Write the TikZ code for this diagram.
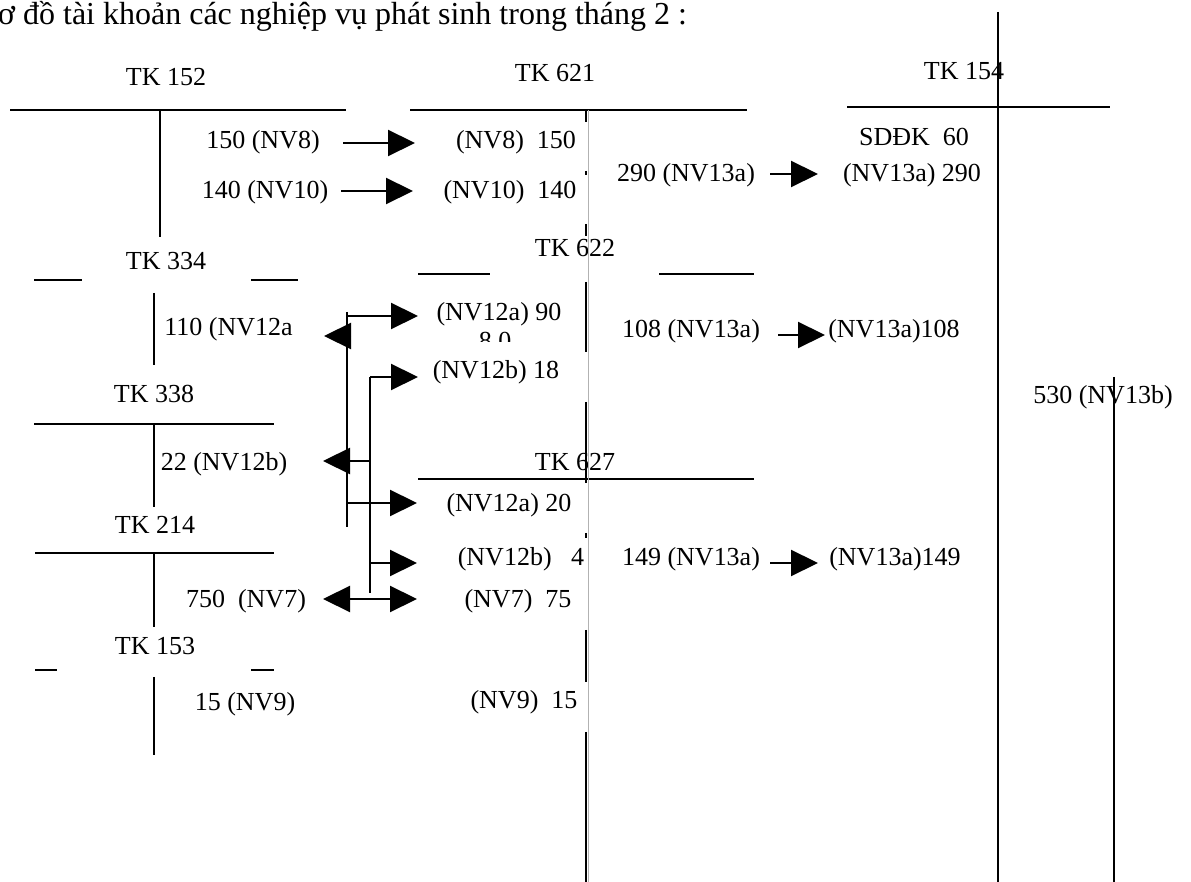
\documentclass[tikz,border=0pt]{standalone}
\usepackage{fontspec}
\setmainfont{Liberation Serif}
\usetikzlibrary{arrows.meta}
\begin{document}
\begin{tikzpicture}[x=0.5pt,y=-0.5pt,
  lbl/.style={inner sep=0pt, anchor=base, font=\fontsize{13}{15}\selectfont},
  tline/.style={line width=0.8pt},
  arr/.style={line width=1.1pt, -{Triangle[length=13.5pt,width=13pt]}},
  brk/.style={line width=1pt},
  faint/.style={line width=0.4pt, draw=black!30}]
\useasboundingbox (0,0) rectangle (1191,882);
% title
\node[lbl, anchor=base west, font=\fontsize{16}{18}\selectfont] (title) at (-20,25) {Sơ đồ tài khoản các nghiệp vụ phát sinh trong tháng 2 :};
% account titles
\node[lbl] (tk152) at (166,86) {TK 152};
\node[lbl] (tk621) at (555,82) {TK 621};
\node[lbl] (tk154) at (964,80) {TK 154};
\node[lbl] (tk622) at (575,257) {TK 622};
\node[lbl] (tk627) at (575,471) {TK 627};
\node[lbl] (tk334) at (166,270) {TK 334};
\node[lbl] (tk338) at (154,403) {TK 338};
\node[lbl] (tk214) at (155,534) {TK 214};
\node[lbl] (tk153) at (155,654) {TK 153};
% T-account lines
\coordinate (h152a) at (10,110); \coordinate (h152b) at (346,110);
\coordinate (v152a) at (160,110); \coordinate (v152b) at (160,237);
\draw[tline] (h152a) -- (h152b);
\draw[tline] (v152a) -- (v152b);
\coordinate (h621a) at (410,110); \coordinate (h621b) at (747,110);
\draw[tline] (h621a) -- (h621b);
\coordinate (h154a) at (847,107); \coordinate (h154b) at (1110,107);
\coordinate (v154a) at (998,12); \coordinate (v154b) at (998,882);
\draw[tline] (h154a) -- (h154b);
\draw[tline] (v154a) -- (v154b);
\coordinate (h622a) at (418,274); \coordinate (h622b) at (490,274);
\coordinate (h622c) at (659,274); \coordinate (h622d) at (754,274);
\draw[tline] (h622a) -- (h622b);
\draw[tline] (h622c) -- (h622d);
\coordinate (h627a) at (418,479); \coordinate (h627b) at (754,479);
\draw[tline] (h627a) -- (h627b);
\coordinate (h334a) at (34,280); \coordinate (h334b) at (82,280);
\coordinate (h334c) at (251,280); \coordinate (h334d) at (298,280);
\coordinate (v334a) at (154,293); \coordinate (v334b) at (154,365);
\draw[tline] (h334a) -- (h334b);
\draw[tline] (h334c) -- (h334d);
\draw[tline] (v334a) -- (v334b);
\coordinate (h338a) at (34,424); \coordinate (h338b) at (274,424);
\coordinate (v338a) at (154,424); \coordinate (v338b) at (154,507);
\draw[tline] (h338a) -- (h338b);
\draw[tline] (v338a) -- (v338b);
\coordinate (h214a) at (35,553); \coordinate (h214b) at (274,553);
\coordinate (v214a) at (154,553); \coordinate (v214b) at (154,627);
\draw[tline] (h214a) -- (h214b);
\draw[tline] (v214a) -- (v214b);
\coordinate (h153a) at (35,670); \coordinate (h153b) at (57,670);
\coordinate (h153c) at (251,670); \coordinate (h153d) at (274,670);
\coordinate (v153a) at (154,677); \coordinate (v153b) at (154,755);
\draw[tline] (h153a) -- (h153b);
\draw[tline] (h153c) -- (h153d);
\draw[tline] (v153a) -- (v153b);
\coordinate (vr1) at (1114,377); \coordinate (vr2) at (1114,882);
\draw[tline] (vr1) -- (vr2);
% long middle vertical line (faint with black pieces)
\coordinate (vm0) at (588,110); \coordinate (vm9) at (588,882);
\draw[faint] (vm0) -- (vm9);
\foreach \ya/\yb in {110/122,171/175,224/236,282/352,402/483,533/538,630/682,732/882}{
  \draw[tline] (586,\ya) -- (586,\yb);
}
% amounts
\node[lbl] (t150a) at (263,149) {150 (NV8)};
\node[lbl] (t150b) at (516,149) {(NV8)~~150};
\node[lbl] (t140a) at (265,199) {140 (NV10)};
\node[lbl] (t140b) at (510,199) {(NV10)~~140};
\node[lbl] (t290a) at (686,182) {290 (NV13a)};
\node[lbl] (tsd) at (914,146) {SDĐK~~60};
\node[lbl] (t290b) at (912,182) {(NV13a) 290};
\node[lbl] (t90) at (499,321) {(NV12a) 90};
\begin{scope}
\clip (460,320) rectangle (530,342);
\node[lbl] (t80) at (495,350) {8 0};
\end{scope}
\node[lbl] (t18) at (496,379) {(NV12b) 18};
\node[lbl] (t108a) at (691,338) {108 (NV13a)};
\node[lbl] (t108b) at (894,338) {(NV13a)108};
\node[lbl] (t530) at (1103,404) {530 (NV13b)};
\node[lbl, anchor=base west] (t110) at (164,336) {110 (NV12a};
\node[lbl] (t22) at (224,471) {22 (NV12b)};
\node[lbl] (t20) at (509,512) {(NV12a) 20};
\node[lbl] (t4) at (521,566) {(NV12b)~~~4};
\node[lbl] (t149a) at (691,566) {149 (NV13a)};
\node[lbl] (t149b) at (895,566) {(NV13a)149};
\node[lbl] (t750) at (246,608) {750~~(NV7)};
\node[lbl] (t75) at (518,608) {(NV7)~~75};
\node[lbl] (t15a) at (245,711) {15 (NV9)};
\node[lbl] (t15b) at (524,709) {(NV9)~~15};
% simple arrows
\coordinate (a1s) at (343,143); \coordinate (a1e) at (415,143);
\coordinate (a2s) at (341,191); \coordinate (a2e) at (413,191);
\coordinate (a3s) at (770,174); \coordinate (a3e) at (818,174);
\coordinate (a4s) at (778,335); \coordinate (a4e) at (825,335);
\coordinate (a5s) at (770,563); \coordinate (a5e) at (818,563);
\draw[arr] (a1s) -- (a1e);
\draw[arr] (a2s) -- (a2e);
\draw[arr] (a3s) -- (a3e);
\draw[arr] (a4s) -- (a4e);
\draw[arr] (a5s) -- (a5e);
% bracket 1 (NV12a)
\coordinate (b1t) at (347,312); \coordinate (b1b) at (347,527);
\draw[brk] (b1t) -- (b1b);
\coordinate (b1a) at (347,316); \coordinate (b1ae) at (418,316);
\draw[arr] (b1a) -- (b1ae);
\coordinate (b1l) at (351,336); \coordinate (b1le) at (324,336);
\draw[arr] (b1l) -- (b1le);
\coordinate (b1c) at (347,503); \coordinate (b1ce) at (417,503);
\draw[arr] (b1c) -- (b1ce);
% bracket 2 (NV12b)
\coordinate (b2t) at (370,377); \coordinate (b2b) at (370,593);
\draw[brk] (b2t) -- (b2b);
\coordinate (b2ae) at (418,377);
\draw[arr] (b2t) -- (b2ae);
\coordinate (b2l) at (370,461); \coordinate (b2le) at (323,461);
\draw[arr] (b2l) -- (b2le);
\coordinate (b2c) at (370,563); \coordinate (b2ce) at (417,563);
\draw[arr] (b2c) -- (b2ce);
% double arrow NV7
\coordinate (d7l) at (323,599); \coordinate (d7r) at (417,599);
\draw[line width=1.1pt, {Triangle[length=13.5pt,width=13pt]}-{Triangle[length=13.5pt,width=13pt]}] (d7l) -- (d7r);
\end{tikzpicture}
\end{document}
